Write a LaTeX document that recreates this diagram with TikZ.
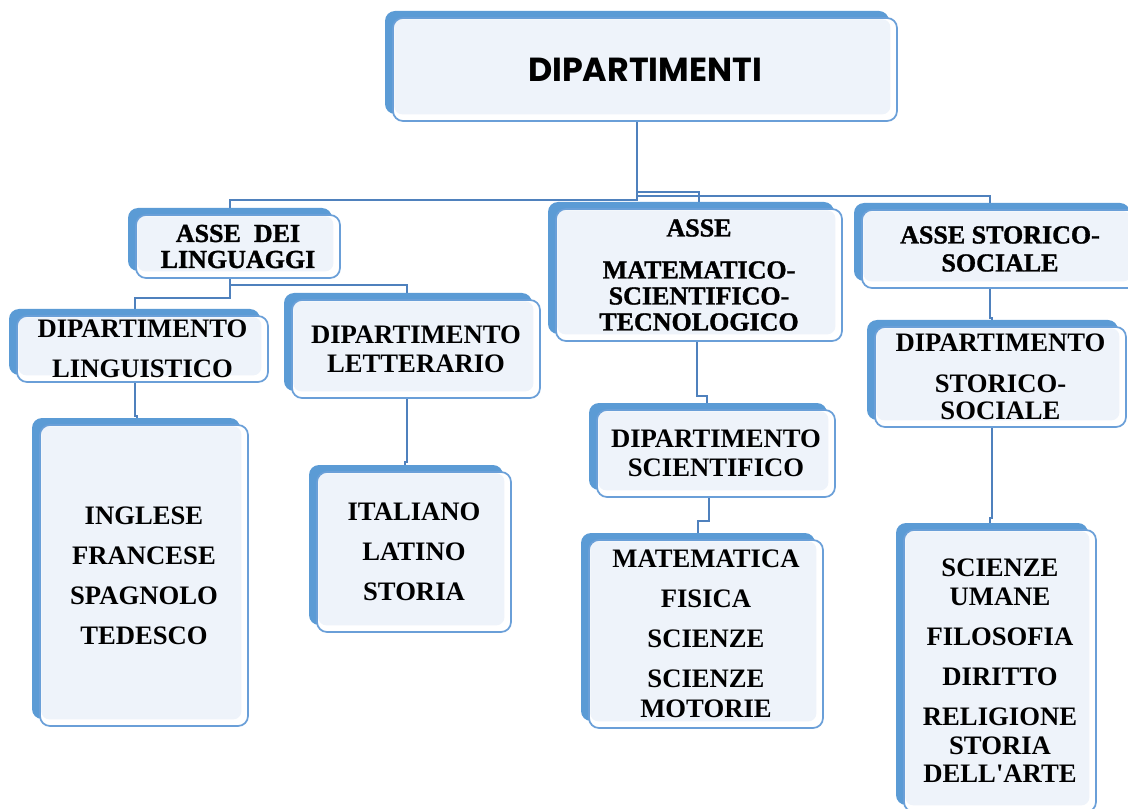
\documentclass[tikz,border=0pt]{standalone}
\usepackage{fontspec}
\setmainfont{Liberation Serif}
\newfontfamily\serf{Liberation Serif}
\newfontfamily\assefont{Liberation Serif}[FakeBold=1.2]
\newfontfamily\titlefont{Poppins}
\usetikzlibrary{shadows,backgrounds}
\definecolor{shblue}{HTML}{5B9BD5}
\definecolor{edgeblue}{HTML}{6A9FD8}
\definecolor{boxfill}{HTML}{EEF3FA}
\definecolor{connc}{HTML}{4F81BD}
\tikzset{
  box/.style={draw=edgeblue, line width=1.3pt, fill=white, rounded corners=7.5pt,
    inner sep=0pt, align=center,
    general shadow={shadow xshift=-6pt, shadow yshift=5.25pt, fill=shblue, draw=none},
    path picture={\fill[boxfill, rounded corners=6pt]
      ([xshift=1pt,yshift=-1pt]path picture bounding box.north west) rectangle
      ([xshift=-5pt,yshift=5pt]path picture bounding box.south east);}},
  bx/.style 2 args={minimum width=#1*0.75pt, minimum height=#2*0.75pt},
  txt/.style={font=\serf\bfseries\fontsize{20}{21.75}\selectfont},
  asse/.style={font=\assefont\bfseries\fontsize{19.5}{19.5}\selectfont},
  conn/.style={draw=connc, line width=1.3pt}
}
\begin{document}
\begin{tikzpicture}[x=0.75pt,y=-0.75pt]
\path[use as bounding box, clip] (0,0) rectangle (1128,809);

% level 0
\node[box, bx={504}{103}, font=\titlefont\bfseries\fontsize{25}{30}\selectfont] (top) at (645,69.5) {DIPARTIMENTI};

% level 1
\node[box, bx={204}{63}, asse] (asse1) at (238,246.5) {ASSE~~DEI\\LINGUAGGI};
\node[box, bx={286}{132}, asse] (asse2) at (699,275) {ASSE\\[12pt]MATEMATICO-\\SCIENTIFICO-\\TECNOLOGICO};
\node[box, bx={276}{78}, asse] (asse3) at (1000,249) {ASSE STORICO-\\[1.5pt]SOCIALE};

% level 2
\node[box, bx={251}{66}, txt] (ling) at (142.5,349) {DIPARTIMENTO\\[8.25pt]LINGUISTICO};
\node[box, bx={248}{98}, txt] (lett) at (416,349) {DIPARTIMENTO\\LETTERARIO};
\node[box, bx={238}{87}, txt] (scien) at (716,453.5) {DIPARTIMENTO\\SCIENTIFICO};
\node[box, bx={251}{100}, txt] (stor) at (1000.5,377) {DIPARTIMENTO\\[9pt]STORICO-\\[-1.5pt]SOCIALE};

% level 3
\node[box, bx={208}{301}, txt] (lang) at (144,575.5) {INGLESE\\[8.25pt]FRANCESE\\[8.25pt]SPAGNOLO\\[8.25pt]TEDESCO};
\node[box, bx={194}{160}, txt] (ital) at (414,552) {ITALIANO\\[8.25pt]LATINO\\[8.25pt]STORIA};
\node[box, bx={234}{188}, txt] (mat) at (706,634) {MATEMATICA\\[8.25pt]FISICA\\[8.25pt]SCIENZE\\[8.25pt]SCIENZE\\[0.75pt]MOTORIE};
\node[box, bx={192}{282}, txt] (uman) at (1000,671) {SCIENZE\\UMANE\\[8.25pt]FILOSOFIA\\[8.25pt]DIRITTO\\[8.25pt]RELIGIONE\\STORIA\\[-0.75pt]DELL'ARTE};

\begin{pgfonlayer}{background}
  \coordinate (b0) at (637,200);
  \draw[conn] (top.south -| b0) -- (b0) -| (asse1.north -| 230,0);
  \draw[conn] (top.south -| b0) |- (asse2.north |- 0,192) -- (asse2.north);
  \draw[conn] (top.south -| b0) |- (990,196) -- (asse3.north -| 990,0);
  \coordinate (b1) at (230,285);
  \draw[conn] (asse1.south -| b1) -- (b1) -| (lett.north -| 407,0);
  \draw[conn] (b1) |- (135,298) -- (ling.north -| 135,0);
  \draw[conn] (asse2.south -| 697,0) -- (697,396) -| (scien.north -| 707,0);
  \draw[conn] (asse3.south -| 990,0) -- (990,318) -| (stor.north -| 992,0);
  \draw[conn] (ling.south -| 135,0) -- (135,416) -| (lang.north -| 137,0);
  \draw[conn] (lett.south -| 407,0) -- (407,462) -| (ital.north -| 405,0);
  \draw[conn] (scien.south -| 709,0) -- (709,521) -| (mat.north -| 698,0);
  \draw[conn] (stor.south -| 992,0) -- (992,518) -| (uman.north -| 990,0);
\end{pgfonlayer}
\end{tikzpicture}
\end{document}
